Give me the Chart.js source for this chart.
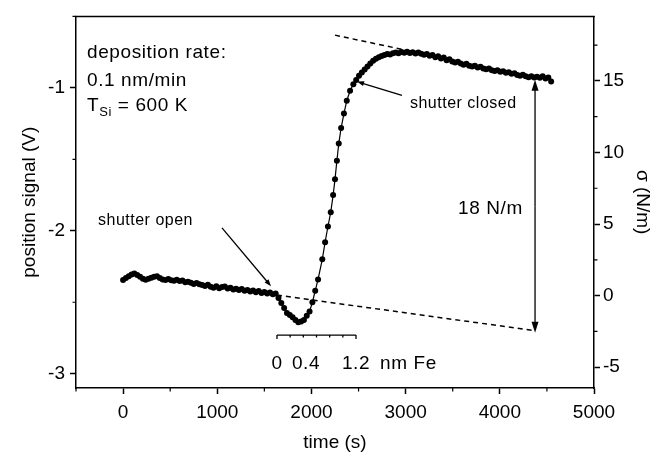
<!DOCTYPE html>
<html>
<head>
<meta charset="utf-8">
<script src="https://cdn.jsdelivr.net/npm/chart.js@4.4.0/dist/chart.umd.min.js"></script>
<style>
  html, body { margin: 0; padding: 0; background: #fff; }
</style>
</head>
<body>
<canvas id="stressChart" width="667" height="453"></canvas>
<script>
// time (s) and position signal (V)
const times = [
  // before shutter open
  0, 30, 60, 90, 120, 150, 180, 210, 240, 270,
  300, 330, 360, 390, 420, 450, 480, 510, 540, 570,
  600, 630, 660, 690, 720, 750, 780, 810, 840, 870,
  900, 930, 960, 990, 1020, 1050, 1080, 1110, 1140, 1170,
  1200, 1230, 1260, 1290, 1320, 1350, 1380, 1410, 1440, 1470,
  1500, 1530, 1560, 1590, 1620,
  // dip after shutter open
  1650, 1680, 1710, 1740, 1770, 1800, 1830, 1860, 1890, 1920,
  1950, 1980, 2010, 2040, 2070,
  // steep rise
  2115, 2145, 2175, 2205, 2230, 2250, 2270, 2290, 2315, 2345,
  2375, 2410, 2445,
  // after shutter closed
  2475, 2505, 2535, 2565, 2595, 2625, 2655, 2685, 2715, 2745,
  2775, 2805, 2835, 2865, 2895, 2925, 2955, 2985, 3015, 3045,
  3075, 3105, 3135, 3165, 3195, 3225, 3255, 3285, 3315, 3345,
  3375, 3405, 3435, 3465, 3495, 3525, 3555, 3585, 3615, 3645,
  3675, 3705, 3735, 3765, 3795, 3825, 3855, 3885, 3915, 3945,
  3975, 4005, 4035, 4065, 4095, 4125, 4155, 4185, 4215, 4245,
  4275, 4305, 4335, 4365, 4395, 4425, 4455, 4485, 4515, 4545
];
const signal = [
  -2.345, -2.330, -2.318, -2.305, -2.298, -2.310, -2.322, -2.335, -2.342, -2.336,
  -2.328, -2.322, -2.318, -2.330, -2.340, -2.345, -2.338, -2.346, -2.350, -2.343,
  -2.352, -2.348, -2.360, -2.356, -2.364, -2.372, -2.366, -2.374, -2.380, -2.386,
  -2.378, -2.392, -2.398, -2.388, -2.402, -2.394, -2.390, -2.404, -2.398, -2.410,
  -2.405, -2.414, -2.408, -2.420, -2.414, -2.424, -2.418, -2.430, -2.422, -2.436,
  -2.428, -2.438, -2.432, -2.444, -2.438,

  -2.470, -2.505, -2.540, -2.575, -2.590, -2.605, -2.625, -2.640, -2.635, -2.625,
  -2.595, -2.565, -2.500, -2.420, -2.340,

  -2.200, -2.080, -1.970, -1.870, -1.750, -1.640, -1.510, -1.390, -1.280, -1.180,
  -1.090, -1.020, -0.975,

  -0.945, -0.915, -0.893, -0.872, -0.850, -0.830, -0.810, -0.797, -0.786, -0.777,
  -0.770, -0.763, -0.766, -0.757, -0.752, -0.758, -0.749, -0.755, -0.747, -0.756,
  -0.751, -0.760, -0.753, -0.762, -0.768, -0.763, -0.775, -0.770, -0.785, -0.778,
  -0.795, -0.788, -0.806, -0.800, -0.815, -0.822, -0.817, -0.830, -0.838, -0.832,
  -0.845, -0.850, -0.846, -0.858, -0.852, -0.865, -0.870, -0.864, -0.876, -0.882,
  -0.876, -0.888, -0.884, -0.895, -0.890, -0.902, -0.898, -0.910, -0.915, -0.908,
  -0.918, -0.925, -0.918, -0.928, -0.922, -0.930, -0.918, -0.935, -0.928, -0.955
];

// dashed fit lines (time, signal)
const lowerFitT = [1634, 4374];
const lowerFitV = [-2.450, -2.699];
const upperFitT = [2250, 3000];
const upperFitV = [-0.631, -0.736];

// axis ticks
const xTicks = [0, 1000, 2000, 3000, 4000, 5000];
const xMinor = [-500, 500, 1500, 2500, 3500, 4500];
const yTicks = [-3, -2, -1];
const yMinor = [-2.5, -1.5, -0.5];
const sigmaTicks = [-5, 0, 5, 10, 15];
const sigmaMinor = [-2.5, 2.5, 7.5, 12.5, 17.5];

// Fe thickness ruler (nm), 0 at shutter open, 1.2 at shutter closed
const feTicks = [0, 0.2, 0.4, 0.6, 0.8, 1.0, 1.2];
const feStart = 1634, feEnd = 2473;

const FONT = '"Liberation Sans", Arial, Helvetica, sans-serif';
Chart.defaults.font.family = FONT;
Chart.defaults.color = '#000';

function toPoints(xs, ys) {
  return xs.map((t, i) => ({ x: t, y: ys[i] }));
}

function drawArrow(ctx, x1, y1, x2, y2, len, half) {
  const a = Math.atan2(y2 - y1, x2 - x1);
  const c = Math.cos(a), s = Math.sin(a);
  ctx.beginPath();
  ctx.moveTo(x1, y1);
  ctx.lineTo(x2 - c * len * 0.7, y2 - s * len * 0.7);
  ctx.stroke();
  ctx.beginPath();
  ctx.moveTo(x2, y2);
  ctx.lineTo(x2 - len * c + half * s, y2 - len * s - half * c);
  ctx.lineTo(x2 - len * c - half * s, y2 - len * s + half * c);
  ctx.closePath();
  ctx.fill();
}

// frame, minor ticks, arrows and labels
const overlay = {
  id: 'overlay',
  afterDraw(chart) {
    const { ctx, chartArea: area, scales } = chart;
    const px = t => scales.x.getPixelForValue(t);
    const py = v => scales.y.getPixelForValue(v);
    ctx.save();
    ctx.strokeStyle = '#000';
    ctx.fillStyle = '#000';

    ctx.lineWidth = 1.5;
    ctx.beginPath();
    ctx.moveTo(area.left - 0.75, area.top);
    ctx.lineTo(area.right + 0.75, area.top);
    ctx.stroke();

    ctx.lineWidth = 1.2;
    ctx.beginPath();
    xMinor.forEach(t => { const X = px(t); ctx.moveTo(X, area.bottom); ctx.lineTo(X, area.bottom + 3.5); });
    yMinor.forEach(v => { const Y = py(v); ctx.moveTo(area.left, Y); ctx.lineTo(area.left - 3.5, Y); });
    sigmaMinor.forEach(v => { const Y = scales.y1.getPixelForValue(v); ctx.moveTo(area.right, Y); ctx.lineTo(area.right + 3.5, Y); });
    ctx.stroke();

    // arrows
    ctx.lineWidth = 1.3;
    drawArrow(ctx, px(1050), py(-1.980), px(1571), py(-2.388), 7, 2.5);
    drawArrow(ctx, px(2961), py(-1.053), px(2484), py(-0.956), 7, 2.5);
    const xs = px(4374);
    drawArrow(ctx, xs, (py(-0.943) + py(-2.713)) / 2, xs, py(-0.943), 11, 3.5);
    drawArrow(ctx, xs, (py(-0.943) + py(-2.713)) / 2, xs, py(-2.713), 11, 3.5);

    // Fe ruler
    const ry = py(-2.730);
    ctx.lineWidth = 1.3;
    ctx.beginPath();
    ctx.moveTo(px(feStart), ry);
    ctx.lineTo(px(feEnd), ry);
    feTicks.forEach((nm, i) => {
      const X = px(feStart + nm * (feEnd - feStart) / 1.2);
      const end = i === 0 || i === feTicks.length - 1;
      ctx.moveTo(X, ry);
      ctx.lineTo(X, ry + (end ? 4 : 2.5));
    });
    ctx.stroke();

    ctx.letterSpacing = '0.6px';
    ctx.textBaseline = 'alphabetic';
    ctx.textAlign = 'left';
    ctx.font = '19px ' + FONT;
    ctx.fillText('deposition rate:', px(-383), py(-0.790));
    ctx.fillText('0.1 nm/min', px(-383), py(-0.984));
    let tx = px(-383);
    const tb = py(-1.164);
    ctx.fillText('T', tx, tb);
    tx += ctx.measureText('T').width;
    ctx.font = '13px ' + FONT;
    ctx.fillText('Si', tx, tb + 5);
    tx += ctx.measureText('Si').width;
    ctx.font = '19px ' + FONT;
    ctx.fillText(' = 600 K', tx, tb);

    ctx.fillText('18 N/m', px(3556), py(-1.883));

    ctx.textAlign = 'center';
    ctx.fillText('0', px(1634), py(-2.969));
    ctx.fillText('0.4', px(1942), py(-2.969));
    ctx.fillText('1.2', px(2473), py(-2.969));
    ctx.textAlign = 'left';
    ctx.fillText('nm Fe', px(2728), py(-2.969));

    ctx.letterSpacing = '0.5px';
    ctx.font = '16px ' + FONT;
    ctx.fillText('shutter open', px(-266), py(-1.959));
    ctx.fillText('shutter closed', px(3046), py(-1.143));
    ctx.restore();
  }
};

const tickGrid = { display: true, drawOnChartArea: false, tickLength: 6, tickColor: '#000', tickWidth: 1.5 };
const axisBorder = { color: '#000', width: 1.5 };
const plainLabel = v => String(v);

new Chart(document.getElementById('stressChart'), {
  type: 'scatter',
  data: {
    datasets: [
      {
        data: toPoints(times, signal),
        showLine: true,
        borderColor: '#000',
        borderWidth: 1.2,
        pointRadius: 3,
        pointBackgroundColor: '#000',
        pointBorderWidth: 0
      },
      {
        data: toPoints(lowerFitT, lowerFitV),
        showLine: true,
        borderColor: '#000',
        borderWidth: 1.5,
        borderDash: [5, 4],
        pointRadius: 0
      },
      {
        data: toPoints(upperFitT, upperFitV),
        showLine: true,
        borderColor: '#000',
        borderWidth: 1.5,
        borderDash: [5, 4],
        pointRadius: 0
      }
    ]
  },
  options: {
    responsive: false,
    animation: false,
    layout: { padding: { top: 12, left: 0, right: 0, bottom: 0 } },
    plugins: { legend: { display: false }, tooltip: { enabled: false } },
    scales: {
      x: {
        type: 'linear',
        position: 'bottom',
        min: -500,
        max: 5000,
        afterBuildTicks: s => { s.ticks = xTicks.map(v => ({ value: v })); },
        afterFit: s => { s.height = 65; },
        border: axisBorder,
        grid: tickGrid,
        ticks: { font: { size: 19 }, color: '#000', padding: 7, maxRotation: 0, autoSkip: false, callback: plainLabel },
        title: { display: true, text: 'time (s)', color: '#000', font: { size: 19, lineHeight: 1 }, padding: { top: 0, bottom: 1 } }
      },
      y: {
        type: 'linear',
        position: 'left',
        min: -3.1,
        max: -0.5,
        afterBuildTicks: s => { s.ticks = yTicks.map(v => ({ value: v })); },
        afterFit: s => { s.width = 76; },
        border: axisBorder,
        grid: tickGrid,
        ticks: { font: { size: 19 }, color: '#000', padding: 5, callback: plainLabel },
        title: { display: true, text: 'position signal (V)', color: '#000', font: { size: 19 }, padding: { top: 18 } }
      },
      y1: {
        type: 'linear',
        position: 'right',
        min: -6.45,
        max: 19.5,
        afterBuildTicks: s => { s.ticks = sigmaTicks.map(v => ({ value: v })); },
        afterFit: s => { s.width = 73; },
        border: axisBorder,
        grid: tickGrid,
        ticks: { font: { size: 19 }, color: '#000', padding: 3, callback: plainLabel },
        title: { display: true, text: 'σ (N/m)', color: '#000', font: { size: 19 }, padding: { top: 13 } }
      }
    }
  },
  plugins: [overlay]
});
</script>
</body>
</html>
